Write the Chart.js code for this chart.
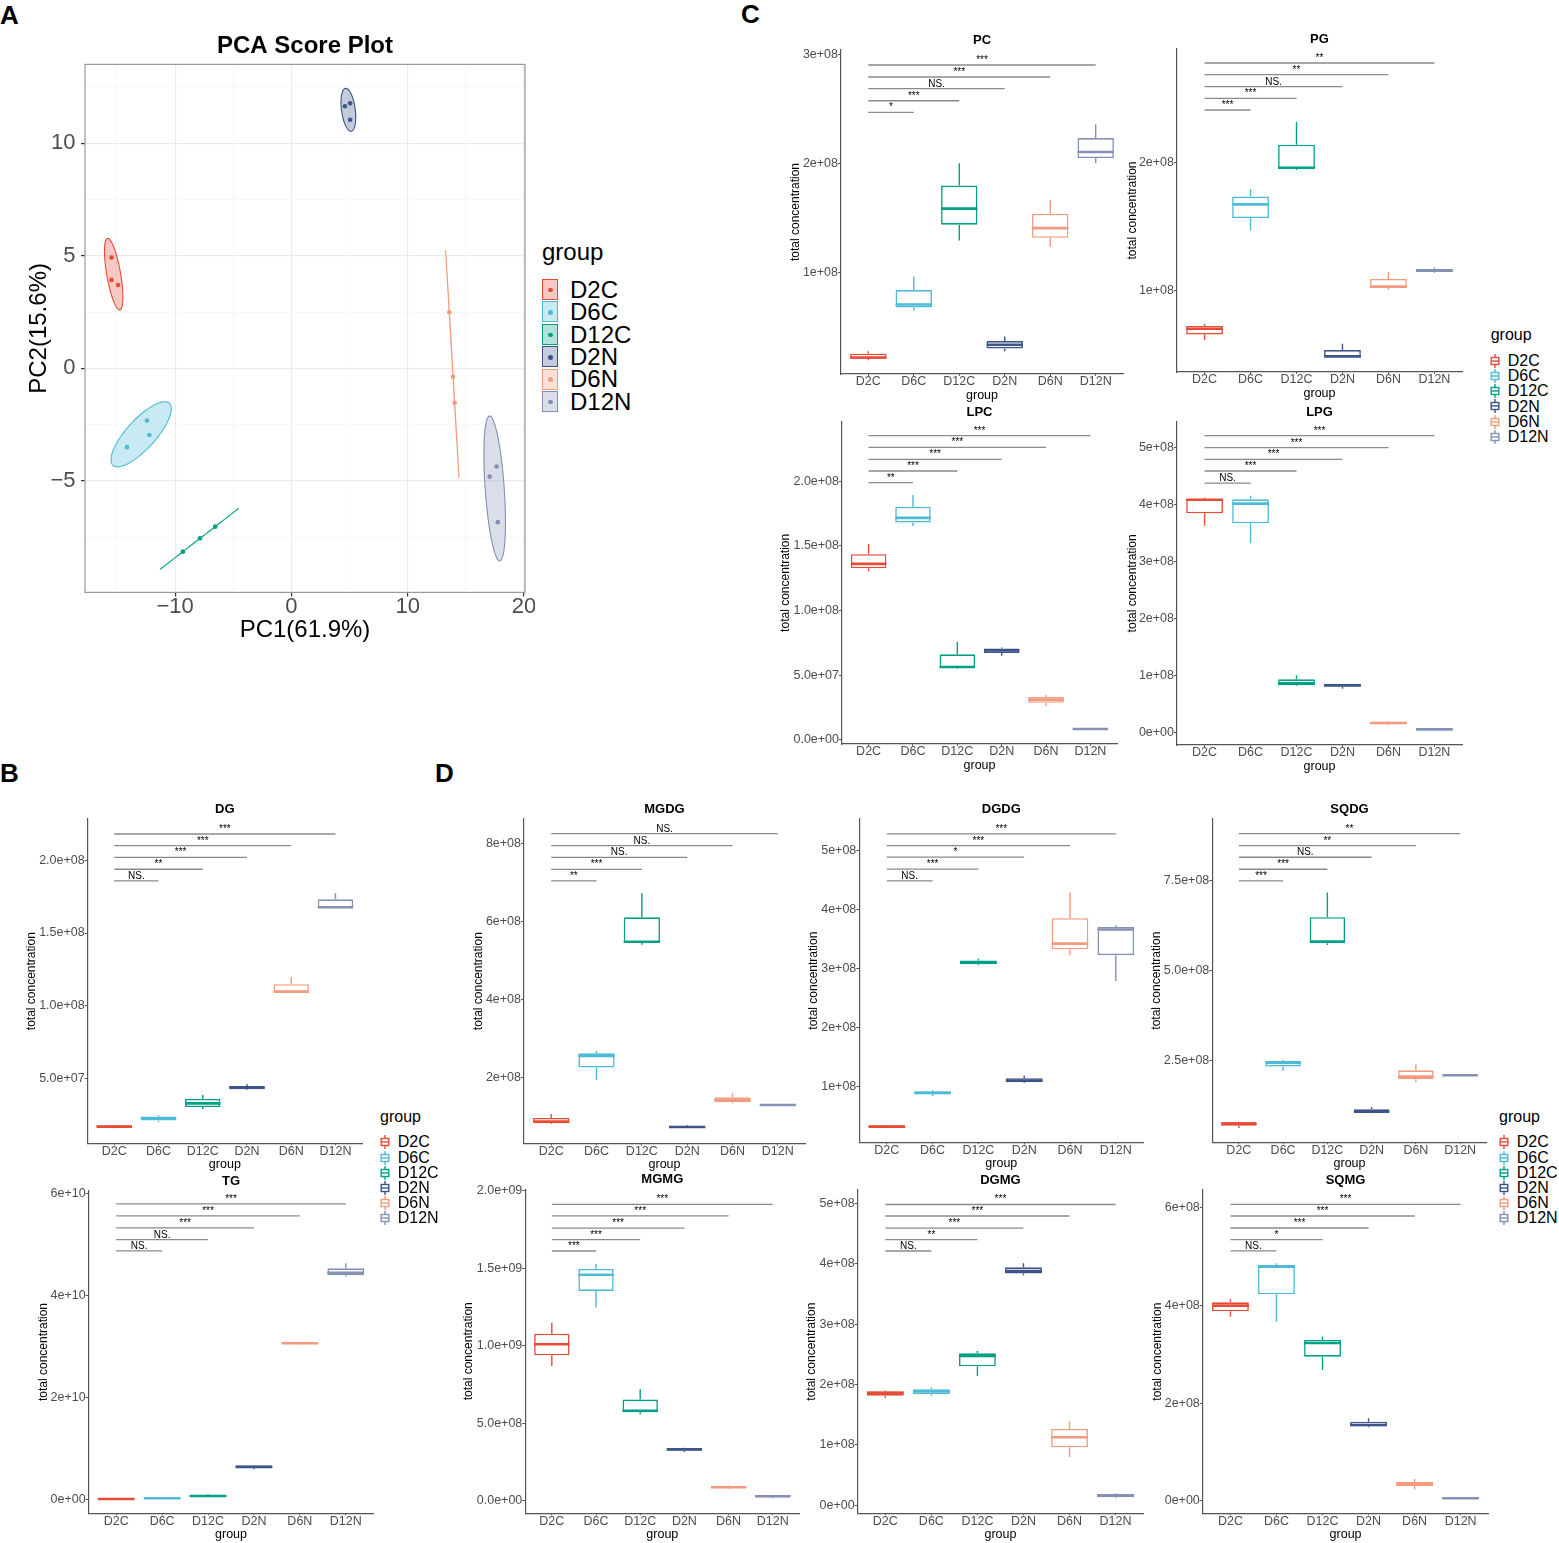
<!DOCTYPE html>
<html>
<head>
<meta charset="utf-8">
<title>Lipid PCA and box plots</title>
<script src="https://cdn.jsdelivr.net/npm/chart.js"></script>
<style>
  body { margin: 0; background: #fff; }
  #page { position: relative; width: 1559px; height: 1543px; overflow: hidden; font-family: Arial, "Liberation Sans", sans-serif; }
  #page canvas { position: absolute; }
  .txt { position: absolute; white-space: nowrap; color: #000; }
  .tag { position: absolute; font-weight: bold; font-size: 26px; line-height: 26px; }
</style>
</head>
<body>
<div id="page">
  <div class="tag" style="left:0px;top:1.6px">A</div>
  <div class="tag" style="left:741px;top:0.6px">C</div>
  <div class="tag" style="left:0px;top:759.6px">B</div>
  <div class="tag" style="left:435px;top:759.6px">D</div>
</div>
<script>
const groups = ['D2C', 'D6C', 'D12C', 'D2N', 'D6N', 'D12N']
const groupColors = ['#E64B35', '#4DBBD5', '#00A087', '#3C5488', '#F39B7F', '#8491B4']

// PCA scores, three samples per group
const pcaGroup = ['D2C', 'D2C', 'D2C', 'D6C', 'D6C', 'D6C', 'D12C', 'D12C', 'D12C',
                  'D2N', 'D2N', 'D2N', 'D6N', 'D6N', 'D6N', 'D12N', 'D12N', 'D12N']
const pc1Scores = [-15.47, -15.47, -14.91, -12.42, -12.21, -14.14, -9.33, -7.86, -6.56,
                   4.60, 5.05, 5.05, 13.58, 13.90, 14.04, 17.05, 17.65, 17.75]
const pc2Scores = [4.92, 3.93, 3.70, -2.32, -2.96, -3.50, -8.14, -7.55, -7.03,
                   11.64, 11.77, 11.04, 2.49, -0.37, -1.53, -4.81, -4.36, -6.83]
const pcaXTicks = [-10, 0, 10, 20]
const pcaXTickLabels = ['\u221210', '0', '10', '20']
const pcaYTicks = [-5, 0, 5, 10]
const pcaYTickLabels = ['\u22125', '0', '5', '10']

// box plots: one [min, q1, median, q3, max] per group, in group order
const PC = [[0.190e8, 0.204e8, 0.215e8, 0.250e8, 0.274e8], [0.648e8, 0.675e8, 0.703e8, 0.835e8, 0.960e8],
            [1.290e8, 1.436e8, 1.583e8, 1.795e8, 2.000e8], [0.274e8, 0.299e8, 0.332e8, 0.366e8, 0.409e8],
            [1.236e8, 1.315e8, 1.404e8, 1.536e8, 1.665e8], [2.000e8, 2.047e8, 2.103e8, 2.231e8, 2.357e8]]
const PC_sig = ['*', '***', 'NS.', '***', '***']
const PC_sigY = [2.467e8, 2.574e8, 2.685e8, 2.792e8, 2.902e8]
const PC_ticks = [1e8, 2e8, 3e8]
const PC_tickLabels = ['1e+08', '2e+08', '3e+08']

const PG = [[0.610e8, 0.654e8, 0.699e8, 0.720e8, 0.736e8], [1.471e8, 1.568e8, 1.675e8, 1.736e8, 1.796e8],
            [1.945e8, 1.956e8, 1.963e8, 2.144e8, 2.322e8], [0.474e8, 0.479e8, 0.482e8, 0.531e8, 0.581e8],
            [1.005e8, 1.018e8, 1.029e8, 1.089e8, 1.144e8], [1.139e8, 1.144e8, 1.157e8, 1.168e8, 1.178e8]]
const PG_sig = ['***', '***', 'NS.', '**', '**']
const PG_sigY = [2.416e8, 2.508e8, 2.599e8, 2.694e8, 2.785e8]
const PG_ticks = [1e8, 2e8]
const PG_tickLabels = ['1e+08', '2e+08']

const LPC = [[1.305e8, 1.328e8, 1.362e8, 1.436e8, 1.516e8], [1.655e8, 1.681e8, 1.717e8, 1.804e8, 1.894e8],
             [0.553e8, 0.556e8, 0.564e8, 0.662e8, 0.757e8], [0.651e8, 0.672e8, 0.692e8, 0.708e8, 0.716e8],
             [0.260e8, 0.288e8, 0.311e8, 0.332e8, 0.347e8], [0.080e8, 0.083e8, 0.085e8, 0.087e8, 0.090e8]]
const LPC_sig = ['**', '***', '***', '***', '***']
const LPC_sigY = [1.990e8, 2.080e8, 2.170e8, 2.263e8, 2.353e8]
const LPC_ticks = [0, 5e7, 1e8, 1.5e8, 2e8]
const LPC_tickLabels = ['0.0e+00', '5.0e+07', '1.0e+08', '1.5e+08', '2.0e+08']

const LPG = [[3.626e8, 3.842e8, 4.080e8, 4.094e8, 4.117e8], [3.316e8, 3.667e8, 4.012e8, 4.088e8, 4.152e8],
             [0.813e8, 0.825e8, 0.860e8, 0.930e8, 1.000e8], [0.766e8, 0.800e8, 0.825e8, 0.854e8, 0.854e8],
             [0.123e8, 0.140e8, 0.164e8, 0.187e8, 0.199e8], [0.045e8, 0.050e8, 0.053e8, 0.057e8, 0.060e8]]
const LPG_sig = ['NS.', '***', '***', '***', '***']
const LPG_sigY = [4.374e8, 4.585e8, 4.790e8, 4.994e8, 5.205e8]
const LPG_ticks = [0, 1e8, 2e8, 3e8, 4e8, 5e8]
const LPG_tickLabels = ['0e+00', '1e+08', '2e+08', '3e+08', '4e+08', '5e+08']

const DG = [[0.159e8, 0.163e8, 0.170e8, 0.177e8, 0.182e8], [0.200e8, 0.212e8, 0.228e8, 0.239e8, 0.250e8],
            [0.289e8, 0.305e8, 0.330e8, 0.360e8, 0.388e8], [0.422e8, 0.427e8, 0.438e8, 0.450e8, 0.461e8],
            [1.095e8, 1.095e8, 1.097e8, 1.148e8, 1.198e8], [1.670e8, 1.672e8, 1.677e8, 1.731e8, 1.773e8]]
const DG_sig = ['NS.', '**', '***', '***', '***']
const DG_sigY = [1.858e8, 1.938e8, 2.020e8, 2.100e8, 2.180e8]
const DG_ticks = [5e7, 1e8, 1.5e8, 2e8]
const DG_tickLabels = ['5.0e+07', '1.0e+08', '1.5e+08', '2.0e+08']

const TG = [[0.004e10, 0.005e10, 0.006e10, 0.007e10, 0.008e10], [0.015e10, 0.018e10, 0.020e10, 0.022e10, 0.024e10],
            [0.040e10, 0.050e10, 0.065e10, 0.078e10, 0.100e10], [0.590e10, 0.614e10, 0.635e10, 0.660e10, 0.665e10],
            [3.040e10, 3.050e10, 3.059e10, 3.065e10, 3.070e10], [4.366e10, 4.392e10, 4.438e10, 4.529e10, 4.627e10]]
const TG_sig = ['NS.', 'NS.', '***', '***', '***']
const TG_sigY = [4.869e10, 5.092e10, 5.320e10, 5.556e10, 5.791e10]
const TG_ticks = [0, 2e10, 4e10, 6e10]
const TG_tickLabels = ['0e+00', '2e+10', '4e+10', '6e+10']

const MGDG = [[0.810e8, 0.828e8, 0.870e8, 0.964e8, 1.067e8], [1.940e8, 2.257e8, 2.557e8, 2.625e8, 2.685e8],
              [5.414e8, 5.456e8, 5.490e8, 6.116e8, 6.732e8], [0.708e8, 0.716e8, 0.733e8, 0.750e8, 0.776e8],
              [1.341e8, 1.367e8, 1.436e8, 1.496e8, 1.599e8], [1.290e8, 1.294e8, 1.298e8, 1.302e8, 1.305e8]]
const MGDG_sig = ['**', '***', 'NS.', 'NS.', 'NS.']
const MGDG_sigY = [7.049e8, 7.348e8, 7.656e8, 7.956e8, 8.263e8]
const MGDG_ticks = [2e8, 4e8, 6e8, 8e8]
const MGDG_tickLabels = ['2e+08', '4e+08', '6e+08', '8e+08']

const DGDG = [[0.305e8, 0.311e8, 0.328e8, 0.345e8, 0.356e8], [0.842e8, 0.876e8, 0.898e8, 0.927e8, 0.944e8],
              [3.062e8, 3.079e8, 3.107e8, 3.141e8, 3.175e8], [1.068e8, 1.079e8, 1.107e8, 1.147e8, 1.192e8],
              [3.232e8, 3.333e8, 3.429e8, 3.859e8, 4.294e8], [2.797e8, 3.232e8, 3.667e8, 3.712e8, 3.740e8]]
const DGDG_sig = ['NS.', '***', '*', '***', '***']
const DGDG_sigY = [4.492e8, 4.689e8, 4.893e8, 5.090e8, 5.288e8]
const DGDG_ticks = [1e8, 2e8, 3e8, 4e8, 5e8]
const DGDG_tickLabels = ['1e+08', '2e+08', '3e+08', '4e+08', '5e+08']

const SQDG = [[0.639e8, 0.704e8, 0.759e8, 0.796e8, 0.815e8], [2.231e8, 2.343e8, 2.454e8, 2.500e8, 2.528e8],
              [5.722e8, 5.769e8, 5.815e8, 6.491e8, 7.176e8], [1.046e8, 1.065e8, 1.093e8, 1.157e8, 1.213e8],
              [1.907e8, 1.991e8, 2.065e8, 2.241e8, 2.407e8], [2.090e8, 2.096e8, 2.102e8, 2.108e8, 2.114e8]]
const SQDG_sig = ['***', '***', 'NS.', '**', '**']
const SQDG_sigY = [7.500e8, 7.824e8, 8.157e8, 8.481e8, 8.815e8]
const SQDG_ticks = [2.5e8, 5e8, 7.5e8]
const SQDG_tickLabels = ['2.5e+08', '5.0e+08', '7.5e+08']

const MGMG = [[0.869e9, 0.938e9, 1.009e9, 1.077e9, 1.148e9], [1.247e9, 1.353e9, 1.458e9, 1.495e9, 1.529e9],
              [0.557e9, 0.570e9, 0.580e9, 0.652e9, 0.718e9], [0.314e9, 0.323e9, 0.331e9, 0.340e9, 0.342e9],
              [0.075e9, 0.080e9, 0.086e9, 0.095e9, 0.097e9], [0.015e9, 0.0215e9, 0.028e9, 0.034e9, 0.037e9]]
const MGMG_sig = ['***', '***', '***', '***', '***']
const MGMG_sigY = [1.611e9, 1.684e9, 1.759e9, 1.837e9, 1.912e9]
const MGMG_ticks = [0, 5e8, 1e9, 1.5e9, 2e9]
const MGMG_tickLabels = ['0.0e+00', '5.0e+08', '1.0e+09', '1.5e+09', '2.0e+09']

const DGMG = [[1.777e8, 1.816e8, 1.860e8, 1.887e8, 1.904e8], [1.816e8, 1.838e8, 1.887e8, 1.921e8, 1.954e8],
              [2.141e8, 2.301e8, 2.472e8, 2.517e8, 2.555e8], [3.808e8, 3.836e8, 3.880e8, 3.940e8, 4.007e8],
              [0.800e8, 0.960e8, 1.126e8, 1.264e8, 1.391e8], [0.116e8, 0.132e8, 0.160e8, 0.188e8, 0.199e8]]
const DGMG_sig = ['NS.', '**', '***', '***', '***']
const DGMG_sigY = [4.21e8, 4.40e8, 4.59e8, 4.79e8, 4.98e8]
const DGMG_ticks = [0, 1e8, 2e8, 3e8, 4e8, 5e8]
const DGMG_tickLabels = ['0e+00', '1e+08', '2e+08', '3e+08', '4e+08', '5e+08']

const SQMG = [[3.770e8, 3.879e8, 3.995e8, 4.063e8, 4.124e8], [3.667e8, 4.226e8, 4.792e8, 4.826e8, 4.860e8],
              [2.679e8, 2.952e8, 3.231e8, 3.292e8, 3.361e8], [1.506e8, 1.527e8, 1.554e8, 1.622e8, 1.691e8],
              [0.239e8, 0.307e8, 0.354e8, 0.395e8, 0.450e8], [0.040e8, 0.048e8, 0.055e8, 0.060e8, 0.065e8]]
const SQMG_sig = ['NS.', '*', '***', '***', '***']
const SQMG_sigY = [5.113e8, 5.344e8, 5.583e8, 5.828e8, 6.067e8]
const SQMG_ticks = [0, 2e8, 4e8, 6e8]
const SQMG_tickLabels = ['0e+00', '2e+08', '4e+08', '6e+08']

// ---------------------------------------------------------------------------

const FONT = 'Arial, "Liberation Sans", sans-serif'
Chart.defaults.font.family = FONT
const page = document.getElementById('page')

function rgba(hex, a) {
  const n = parseInt(hex.slice(1), 16)
  return 'rgba(' + (n >> 16) + ',' + ((n >> 8) & 255) + ',' + (n & 255) + ',' + a + ')'
}

function addCanvas(left, top, width, height) {
  const c = document.createElement('canvas')
  c.width = width
  c.height = height
  c.style.left = left + 'px'
  c.style.top = top + 'px'
  page.appendChild(c)
  return c
}

function addText(text, left, top, size, color) {
  const d = document.createElement('div')
  d.className = 'txt'
  d.textContent = text
  d.style.left = left + 'px'
  d.style.top = top + 'px'
  d.style.fontSize = size + 'px'
  d.style.lineHeight = size + 'px'
  if (color) d.style.color = color
  page.appendChild(d)
  return d
}

// ---------------- panel A: PCA score plot ----------------

function withMinor(major, min, max) {
  const half = (major[1] - major[0]) / 2
  const out = []
  let v = major[0]
  while (v - half >= min) v -= half
  for (; v <= max + 1e-9; v += half) out.push(Math.round(v * 1000) / 1000)
  return out
}

const pcaExtras = {
  id: 'pcaExtras',
  beforeDatasetsDraw(chart) {
    const { ctx, scales: { x, y } } = chart
    const r = Math.sqrt(5.991)
    ctx.save()
    groups.forEach((g, gi) => {
      const xs = [], ys = []
      pcaGroup.forEach((pg, k) => { if (pg === g) { xs.push(pc1Scores[k]); ys.push(pc2Scores[k]) } })
      const n = xs.length
      const mx = xs.reduce((a, b) => a + b, 0) / n
      const my = ys.reduce((a, b) => a + b, 0) / n
      let sxx = 0, syy = 0, sxy = 0
      for (let k = 0; k < n; k++) {
        sxx += (xs[k] - mx) ** 2
        syy += (ys[k] - my) ** 2
        sxy += (xs[k] - mx) * (ys[k] - my)
      }
      sxx /= n - 1; syy /= n - 1; sxy /= n - 1
      const l11 = Math.sqrt(sxx)
      const l21 = sxy / l11
      const l22 = Math.sqrt(Math.max(syy - l21 * l21, 0))
      ctx.beginPath()
      for (let t = 0; t <= 120; t++) {
        const a = t / 120 * 2 * Math.PI
        const u = Math.cos(a), v = Math.sin(a)
        const px = x.getPixelForValue(mx + r * l11 * u)
        const py = y.getPixelForValue(my + r * (l21 * u + l22 * v))
        if (t === 0) ctx.moveTo(px, py)
        else ctx.lineTo(px, py)
      }
      ctx.closePath()
      ctx.fillStyle = rgba(groupColors[gi], 0.3)
      ctx.fill()
      ctx.strokeStyle = groupColors[gi]
      ctx.lineWidth = 1.1
      ctx.stroke()
    })
    ctx.restore()
  },
  afterDraw(chart) {
    const { ctx, chartArea: a } = chart
    ctx.save()
    ctx.strokeStyle = '#9a9a9a'
    ctx.lineWidth = 1.2
    ctx.strokeRect(a.left, a.top, a.right - a.left, a.bottom - a.top)
    ctx.fillStyle = '#000'
    ctx.font = 'bold 24px ' + FONT
    ctx.textAlign = 'center'
    ctx.textBaseline = 'middle'
    ctx.fillText('PCA Score Plot', (a.left + a.right) / 2, a.top - 18)
    ctx.restore()
  }
}

function pcaAxis(major, labels, fitKey, fitVal, title, tickPad) {
  const isMajor = v => major.includes(v)
  return {
    type: 'linear',
    afterBuildTicks: s => { s.ticks = withMinor(major, s.min, s.max).map(v => ({ value: v })) },
    afterFit: s => { s[fitKey] = fitVal },
    ticks: {
      autoSkip: false, maxRotation: 0, color: '#4D4D4D', font: { size: 22 }, padding: tickPad,
      callback: v => { const i = major.indexOf(v); return i < 0 ? '' : labels[i] }
    },
    grid: {
      drawTicks: true, tickLength: 4,
      color: c => isMajor(c.tick.value) ? '#EBEBEB' : '#F4F4F4',
      lineWidth: c => isMajor(c.tick.value) ? 1.2 : 0.6,
      tickColor: c => isMajor(c.tick.value) ? '#333333' : 'rgba(0,0,0,0)'
    },
    border: { display: false },
    title: { display: true, text: title, color: '#000', font: { size: 24 }, padding: 0 }
  }
}

const pcaCanvas = addCanvas(25, 0, 510, 645)
new Chart(pcaCanvas, {
  type: 'scatter',
  data: {
    datasets: groups.map((g, gi) => ({
      label: g,
      data: pcaGroup.map((pg, k) => pg === g ? { x: pc1Scores[k], y: pc2Scores[k] } : null).filter(Boolean),
      pointRadius: 2.3,
      pointBorderWidth: 0,
      pointBackgroundColor: groupColors[gi],
      pointBorderColor: groupColors[gi]
    }))
  },
  options: {
    responsive: false, animation: false, events: [],
    layout: { padding: { top: 64.4, right: 10, left: 0, bottom: 0 } },
    plugins: { legend: { display: false }, tooltip: { enabled: false } },
    scales: {
      x: Object.assign(pcaAxis(pcaXTicks, pcaXTickLabels, 'height', 52.6, 'PC1(61.9%)', -3), { min: -17.75, max: 20.09 }),
      y: Object.assign(pcaAxis(pcaYTicks, pcaYTickLabels, 'width', 60, 'PC2(15.6%)', 5.5), { min: -9.95, max: 13.5 })
    }
  },
  plugins: [pcaExtras]
})

// legend for panel A
addText('group', 542, 240.3, 24)
groups.forEach((g, i) => {
  const cy = 289.5 + i * 22.4
  const key = document.createElement('div')
  key.style.cssText = 'position:absolute;box-sizing:border-box;left:542px;top:' + (cy - 10.5) + 'px;width:16px;height:21px;' +
    'border:1px solid ' + groupColors[i] + ';background:' + rgba(groupColors[i], 0.3)
  const dot = document.createElement('div')
  dot.style.cssText = 'position:absolute;left:5.3px;top:7.8px;width:4.6px;height:4.6px;border-radius:50%;background:' + groupColors[i]
  key.appendChild(dot)
  page.appendChild(key)
  addText(g, 570, cy - 11.7, 24)
})

// ---------------- box plots ----------------

function boxExtras(p) {
  return {
    id: 'boxExtras',
    afterDatasetsDraw(chart) {
      const { ctx, scales: { x, y } } = chart
      const meta = chart.getDatasetMeta(0)
      ctx.save()
      p.stats.forEach((s, i) => {
        const cx = x.getPixelForValue(i + 1)
        const half = meta.data[i].width / 2
        ctx.strokeStyle = groupColors[i]
        ctx.lineWidth = 1.4
        ctx.beginPath()
        ctx.moveTo(cx, y.getPixelForValue(s[3]))
        ctx.lineTo(cx, y.getPixelForValue(s[4]))
        ctx.moveTo(cx, y.getPixelForValue(s[1]))
        ctx.lineTo(cx, y.getPixelForValue(s[0]))
        ctx.stroke()
        const my = y.getPixelForValue(s[2])
        ctx.lineWidth = 2.6
        ctx.beginPath()
        ctx.moveTo(cx - half, my)
        ctx.lineTo(cx + half, my)
        ctx.stroke()
      })
      // significance brackets against D2C
      const x1 = x.getPixelForValue(1)
      ctx.font = '10px ' + FONT
      ctx.textAlign = 'center'
      ctx.textBaseline = 'alphabetic'
      p.sigY.forEach((v, k) => {
        const py = y.getPixelForValue(v)
        const x2 = x.getPixelForValue(k + 2)
        ctx.strokeStyle = '#8a8a8a'
        ctx.lineWidth = 1.3
        ctx.beginPath()
        ctx.moveTo(x1, py)
        ctx.lineTo(x2, py)
        ctx.stroke()
        ctx.fillStyle = '#000'
        ctx.fillText(p.sig[k], (x1 + x2) / 2, py - 2)
      })
      ctx.restore()
    },
    afterDraw(chart) {
      const { ctx, chartArea: a } = chart
      ctx.save()
      ctx.fillStyle = '#000'
      ctx.font = 'bold 13px ' + FONT
      ctx.textAlign = 'center'
      ctx.textBaseline = 'middle'
      ctx.fillText(p.title, (a.left + a.right) / 2, a.top - 9.5)
      ctx.restore()
    }
  }
}

function boxChart(p) {
  const left = Math.round(p.titleX - 7.2)
  const top = Math.round(p.T - 26)
  const width = Math.round(p.R + 8 - left)
  const height = Math.round(p.B + 28.5 - top)
  const yW = p.L - left
  const xH = top + height - p.B
  const canvas = addCanvas(left, top, width, height)
  const axisBorder = { display: true, color: '#555', width: 1.2 }
  new Chart(canvas, {
    type: 'bar',
    data: {
      datasets: [{
        data: p.stats.map((s, i) => ({ x: i + 1, y: [s[1], s[3]] })),
        backgroundColor: '#ffffff',
        borderColor: groupColors,
        borderWidth: 1.6,
        borderSkipped: false,
        categoryPercentage: 0.8,
        barPercentage: 1
      }]
    },
    options: {
      responsive: false, animation: false, events: [],
      layout: { padding: { top: p.T - top, right: left + width - p.R, left: 0, bottom: 0 } },
      plugins: { legend: { display: false }, tooltip: { enabled: false } },
      scales: {
        x: {
          type: 'linear', min: 0.4, max: 6.6, offset: false,
          afterBuildTicks: s => { s.ticks = groups.map((g, i) => ({ value: i + 1 })) },
          afterFit: s => { s.height = xH },
          ticks: { autoSkip: false, maxRotation: 0, color: '#4D4D4D', font: { size: 12.5 }, padding: -1.5,
                   callback: v => groups[v - 1] },
          grid: { drawOnChartArea: false, drawTicks: true, tickLength: 2, color: '#555', lineWidth: 1, offset: false },
          border: axisBorder,
          title: { display: true, text: 'group', color: '#000', font: { size: 12.5 }, padding: 0 }
        },
        y: {
          type: 'linear', min: p.yMin, max: p.yMax,
          afterBuildTicks: s => { s.ticks = p.ticks.map(v => ({ value: v })) },
          afterFit: s => { s.width = yW },
          ticks: { autoSkip: false, color: '#4D4D4D', font: { size: 12.5 }, padding: 0,
                   callback: (v, i) => p.tickLabels[i] },
          grid: { drawOnChartArea: false, drawTicks: true, tickLength: 3, color: '#555', lineWidth: 1 },
          border: axisBorder,
          title: { display: true, text: 'total concentration', color: '#000', font: { size: 12 }, padding: 0 }
        }
      }
    },
    plugins: [boxExtras(p)]
  })
}

const panels = [
  { title: 'PC', stats: PC, sig: PC_sig, sigY: PC_sigY, ticks: PC_ticks, tickLabels: PC_tickLabels,
    yMin: 0.064e8, yMax: 3.04e8, L: 841, T: 50, R: 1123, B: 374, titleX: 795 },
  { title: 'PG', stats: PG, sig: PG_sig, sigY: PG_sigY, ticks: PG_ticks, tickLabels: PG_tickLabels,
    yMin: 0.359e8, yMax: 2.895e8, L: 1177, T: 49, R: 1462, B: 372, titleX: 1131.7 },
  { title: 'LPC', stats: LPC, sig: LPC_sig, sigY: LPC_sigY, ticks: LPC_ticks, tickLabels: LPC_tickLabels,
    yMin: -0.031e8, yMax: 2.461e8, L: 842, T: 421.7, R: 1117, B: 744, titleX: 785 },
  { title: 'LPG', stats: LPG, sig: LPG_sig, sigY: LPG_sigY, ticks: LPG_ticks, tickLabels: LPG_tickLabels,
    yMin: -0.222e8, yMax: 5.45e8, L: 1177, T: 421.7, R: 1462, B: 745, titleX: 1131.7 },
  { title: 'DG', stats: DG, sig: DG_sig, sigY: DG_sigY, ticks: DG_ticks, tickLabels: DG_tickLabels,
    yMin: 0.0556e8, yMax: 2.283e8, L: 87.7, T: 819, R: 362, B: 1143.3, titleX: 31 },
  { title: 'TG', stats: TG, sig: TG_sig, sigY: TG_sigY, ticks: TG_ticks, tickLabels: TG_tickLabels,
    yMin: -0.275e10, yMax: 6.05e10, L: 88.7, T: 1190.7, R: 373.3, B: 1513.3, titleX: 42.7 },
  { title: 'MGDG', stats: MGDG, sig: MGDG_sig, sigY: MGDG_sigY, ticks: MGDG_ticks, tickLabels: MGDG_tickLabels,
    yMin: 0.314e8, yMax: 8.64e8, L: 524, T: 819, R: 805, B: 1143.3, titleX: 478.3 },
  { title: 'DGDG', stats: DGDG, sig: DGDG_sig, sigY: DGDG_sigY, ticks: DGDG_ticks, tickLabels: DGDG_tickLabels,
    yMin: 0.062e8, yMax: 5.54e8, L: 859.3, T: 819, R: 1143.3, B: 1142.3, titleX: 813.3 },
  { title: 'SQDG', stats: SQDG, sig: SQDG_sig, sigY: SQDG_sigY, ticks: SQDG_ticks, tickLabels: SQDG_tickLabels,
    yMin: 0.241e8, yMax: 9.22e8, L: 1212.3, T: 819, R: 1486.7, B: 1142.3, titleX: 1155.7 },
  { title: 'MGMG', stats: MGMG, sig: MGMG_sig, sigY: MGMG_sigY, ticks: MGMG_ticks, tickLabels: MGMG_tickLabels,
    yMin: -0.0817e9, yMax: 2.009e9, L: 525.3, T: 1189.3, R: 799.3, B: 1513.3, titleX: 468.3 },
  { title: 'DGMG', stats: DGMG, sig: DGMG_sig, sigY: DGMG_sigY, ticks: DGMG_ticks, tickLabels: DGMG_tickLabels,
    yMin: -0.132e8, yMax: 5.22e8, L: 857.7, T: 1190, R: 1143.2, B: 1513.3, titleX: 811 },
  { title: 'SQMG', stats: SQMG, sig: SQMG_sig, sigY: SQMG_sigY, ticks: SQMG_ticks, tickLabels: SQMG_tickLabels,
    yMin: -0.252e8, yMax: 6.36e8, L: 1202.8, T: 1190, R: 1488.3, B: 1513.3, titleX: 1157 }
]
panels.forEach(boxChart)

// box plot legends (panels C, B, D)
function boxLegend(titleLeft, titleCenter, iconLeft, textLeft, rowStart, rowStep) {
  addText('group', titleLeft, titleCenter - 0.7 * 16, 16)
  groups.forEach((g, i) => {
    const cy = rowStart + i * rowStep
    const c = groupColors[i]
    const ns = 'http://www.w3.org/2000/svg'
    const svg = document.createElementNS(ns, 'svg')
    svg.setAttribute('width', '10')
    svg.setAttribute('height', '14')
    svg.style.cssText = 'position:absolute;left:' + iconLeft + 'px;top:' + (cy - 7) + 'px'
    svg.innerHTML = '<line x1="5" y1="0" x2="5" y2="14" stroke="' + c + '" stroke-width="1.4"/>' +
      '<rect x="1.2" y="3.5" width="7.6" height="7" fill="#fff" stroke="' + c + '" stroke-width="1.4"/>' +
      '<line x1="1.2" y1="7" x2="8.8" y2="7" stroke="' + c + '" stroke-width="1.4"/>'
    page.appendChild(svg)
    addText(g, textLeft, cy - 0.4885 * 16, 16)
  })
}
boxLegend(1490.7, 338.3, 1490, 1507.7, 361, 15.15)
boxLegend(380, 1120, 380, 397.7, 1142.3, 15.2)
boxLegend(1499, 1120, 1498.5, 1516.7, 1142.3, 15.2)
</script>
</body>
</html>
